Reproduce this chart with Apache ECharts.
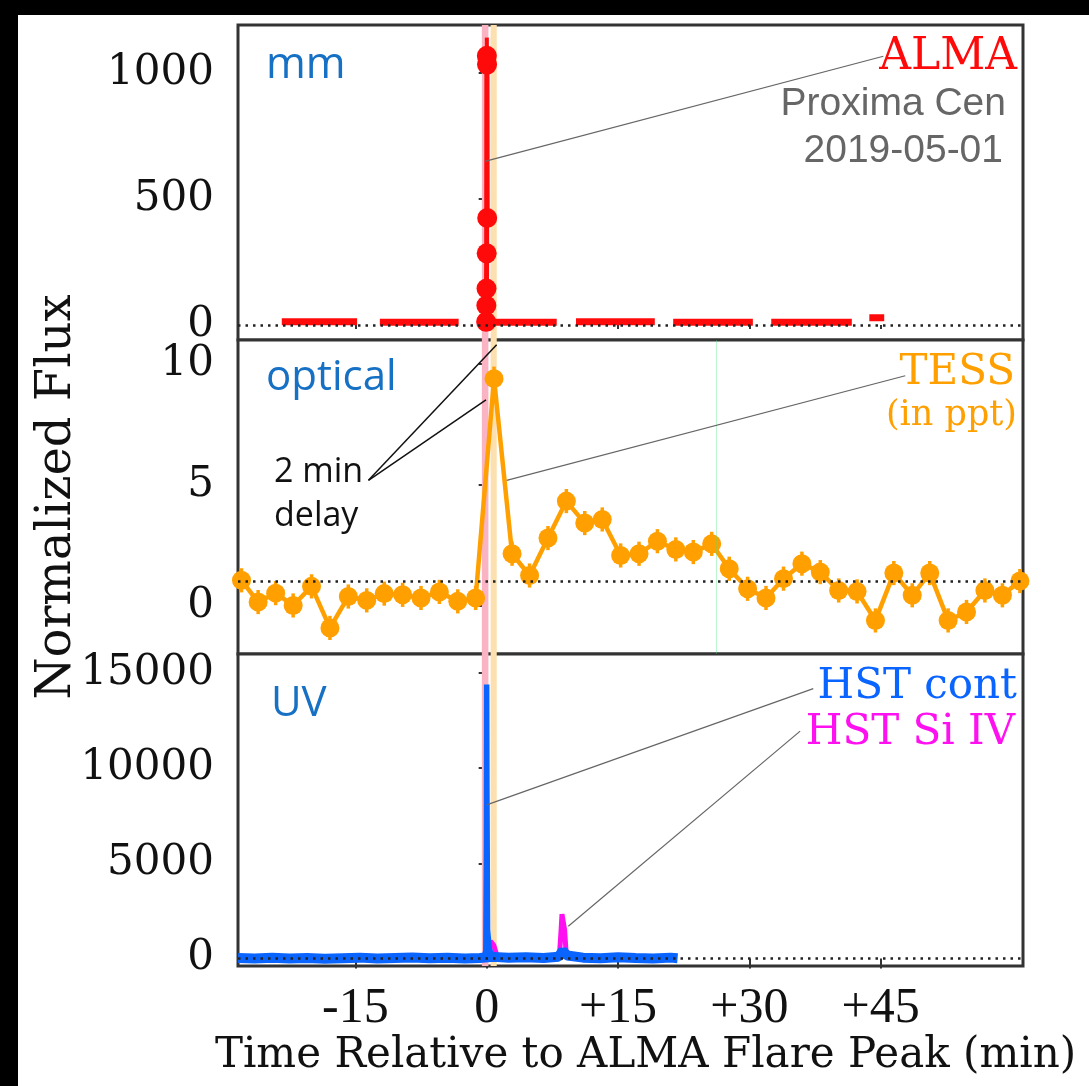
<!DOCTYPE html>
<html><head><meta charset="utf-8">
<script src="https://cdn.jsdelivr.net/npm/echarts@6/dist/echarts.min.js"></script>
<style>html,body{margin:0;padding:0;background:#fff}#c{width:1089px;height:1086px}</style>
</head><body><div id="c"></div>
<script>
// ---------------- data ----------------
const xTicks = [-15, 0, 15, 30, 45];
const yTicksMM = [0, 500, 1000];
const yTicksOpt = [0, 5, 10];
const yTicksUV = [0, 5000, 10000, 15000];

// ALMA quiescent scans (start, end, level)
const almaScanStart = [-23.4, -12.2, -1.0, 10.2, 21.3, 32.5, 43.7];
const almaScanEnd   = [-14.8, -3.2, 8.0, 19.2, 30.4, 41.7, 45.4];
const almaScanLevel = [12, 10, 10, 12, 10, 10, 28];
// ALMA flare samples
const almaFlareT   = [-0.06, -0.04, -0.02, 0.0, 0.02, 0.04, 0.06];
const almaFlareV   = [12, 77, 144, 284, 1068, 1033, 424];
const almaFlareErr = [10, 20, 20, 25, 72, 60, 25];

// TESS (ppt)
const tessT = [-28.0,-26.1,-24.1,-22.1,-20.0,-17.9,-15.8,-13.7,-11.7,-9.6,-7.5,-5.4,-3.3,-1.26,0.84,2.9,4.9,7.0,9.1,11.2,13.2,15.3,17.4,19.5,21.6,23.6,25.7,27.7,29.8,31.9,33.9,36.0,38.1,40.2,42.3,44.4,46.5,48.6,50.6,52.7,54.8,56.9,58.9,60.9];
const tessV = [1.05,0.15,0.52,0.01,0.8,-0.92,0.38,0.22,0.5,0.45,0.32,0.57,0.18,0.32,9.4,2.15,1.25,2.8,4.33,3.42,3.57,2.08,2.15,2.67,2.33,2.22,2.56,1.53,0.7,0.32,1.12,1.74,1.39,0.63,0.59,-0.61,1.35,0.43,1.35,-0.61,-0.26,0.63,0.43,1.02];
const tessErr = [0.5,0.5,0.5,0.5,0.5,0.5,0.5,0.5,0.5,0.5,0.5,0.5,0.5,0.5,0.5,0.5,0.5,0.5,0.5,0.5,0.5,0.5,0.5,0.5,0.5,0.5,0.5,0.5,0.5,0.5,0.5,0.5,0.5,0.5,0.5,0.5,0.5,0.5,0.5,0.5,0.5,0.5,0.5,0.5];

// HST continuum
const hstBaseT = [-28.4,-26.5,-24.5,-22.5,-20.5,-18.5,-16.5,-14.5,-12.5,-10.5,-8.5,-6.5,-4.5,-2.5,-0.8,0.8,2.5,4.5,6.5,8.2,8.7,9.2,11,13,15,17,19,21,21.8];
const hstBaseV = [20,-10,30,0,20,-20,10,40,-10,20,50,10,30,0,20,80,30,60,20,90,400,150,40,10,60,20,-10,40,10];
const hstFlareT = [-0.3,-0.1,-0.03,0.0,0.03,0.1,0.3,0.6];
const hstFlareV = [50,400,6000,14400,9000,1500,500,150];
// HST Si IV
const siT = [-0.3,0.2,0.45,0.8,1.2,8.3,8.5,8.6,8.8,8.9,9.1];
const siV = [0,300,900,700,100,100,1500,2330,2330,1500,100];

// shaded time windows
const pinkBand = [-0.55, 0.2];
const orangeBand = [0.45, 1.15];

// annotation leader lines (data coords)
const leadTop = [[[-0.2, 649], [45.3, 1066]]];
const leadMid = [[[2.28, 5.19], [47.8, 9.52]]];
const leadDelay = [[[-13.5, 5.19], [1.14, 10.8]], [[-13.5, 5.19], [-0.08, 8.52]]];
const leadBot = [[[0.0, 8067], [37.3, 14180]], [[9.32, 1692], [35.8, 11944]]];

// ---------------- chart ----------------
const X_MIN = -28.4, X_MAX = 61.25;
const RED = '#ff0a0a', ORANGE = '#ffa000', BLUE = '#0a64ff', MAG = '#ff10f0';
const TXTBLUE = '#1670c4';
const SERIF = '"DejaVu Serif"';
const NUMF = '"Liberation Serif"';

const grids = [
  {left: 238, top: 25, width: 785, height: 315},
  {left: 238, top: 340, width: 785, height: 314},
  {left: 238, top: 654, width: 785, height: 312}
].map(g => Object.assign(g, {show: true, borderColor: '#333', borderWidth: 3, backgroundColor: '#fff', containLabel: false}));

function xAx(i) {
  const bottom = i === 2;
  return {
    type: 'value', gridIndex: i, min: X_MIN, max: X_MAX,
    position: i === 0 ? 'top' : 'bottom',
    axisLine: {show: false}, splitLine: {show: false},
    axisTick: {show: i !== 1, customValues: xTicks, inside: !bottom, length: bottom ? 10 : 4,
      lineStyle: {color: '#333', width: 2}},
    axisLabel: {show: bottom, customValues: xTicks, margin: 18,
      formatter: v => (v > 0 ? '+' + v : '' + v),
      fontFamily: NUMF, fontSize: 50, color: '#111'},
    name: bottom ? 'Time Relative to ALMA Flare Peak (min)' : '',
    nameLocation: 'middle', nameGap: 64,
    nameTextStyle: {fontFamily: SERIF, fontSize: 42, color: '#111', padding: [0, 0, 0, 30]}
  };
}
function yAx(i, min, max, ticks) {
  return {
    type: 'value', gridIndex: i, min: min, max: max,
    axisLine: {show: false}, splitLine: {show: false},
    axisTick: {show: true, customValues: ticks, length: 8, lineStyle: {color: '#333', width: 2}},
    axisLabel: {customValues: ticks, margin: 24, fontFamily: SERIF, fontSize: 42, color: '#111',
      padding: [7, 0, 0, 0], formatter: v => String(v)},
    name: i === 1 ? 'Normalized Flux' : '',
    nameLocation: 'middle', nameGap: 156,
    nameTextStyle: {fontFamily: SERIF, fontSize: 48, color: '#111'}
  };
}

function helper(i, dottedY, extraLines) {
  const ml = [{yAxis: dottedY, lineStyle: {type: [2.5, 5], width: 2.5, color: '#222'}}];
  (extraLines || []).forEach(l => ml.push(l));
  return {
    type: 'line', xAxisIndex: i, yAxisIndex: i, data: [], z: 1, silent: true,
    markArea: {silent: true, data: [
      [{xAxis: pinkBand[0], itemStyle: {color: '#f9b3c3'}}, {xAxis: pinkBand[1]}],
      [{xAxis: orangeBand[0], itemStyle: {color: '#fde0b0'}}, {xAxis: orangeBand[1]}]
    ]},
    markLine: {silent: true, symbol: ['none', 'none'], label: {show: false}, data: ml}
  };
}
function leaders(i, segs, color, width) {
  return {
    type: 'line', xAxisIndex: i, yAxisIndex: i, data: [], z: 6, silent: true,
    markLine: {silent: true, symbol: ['none', 'none'], label: {show: false},
      lineStyle: {color: color, width: width, type: 'solid'},
      data: segs.map(s => [{coord: s[0]}, {coord: s[1]}])}
  };
}
function errBars(i, ts, vs, es, color, w, z) {
  return {
    type: 'custom', xAxisIndex: i, yAxisIndex: i, z: z, silent: true,
    data: ts.map((t, k) => [t, vs[k] - es[k], vs[k] + es[k]]),
    renderItem: (p, api) => {
      const a = api.coord([api.value(0), api.value(1)]);
      const b = api.coord([api.value(0), api.value(2)]);
      return {type: 'line', shape: {x1: a[0], y1: a[1], x2: b[0], y2: b[1]},
        style: {stroke: color, lineWidth: w}};
    }
  };
}

const series = [];
// panel 1: mm
series.push(helper(0, 0));
almaScanStart.forEach((s, k) => series.push({
  type: 'line', xAxisIndex: 0, yAxisIndex: 0, symbol: 'none', z: 3,
  lineStyle: {color: RED, width: 7},
  data: [[s, almaScanLevel[k]], [almaScanEnd[k], almaScanLevel[k]]]
}));
series.push(errBars(0, almaFlareT, almaFlareV, almaFlareErr, RED, 4, 3));
series.push({
  type: 'line', xAxisIndex: 0, yAxisIndex: 0, z: 4,
  symbol: 'circle', symbolSize: 20, itemStyle: {color: RED},
  lineStyle: {color: RED, width: 5},
  data: almaFlareT.map((t, k) => [t, almaFlareV[k]])
});
series.push(leaders(0, leadTop, '#666', 1.2));

// panel 2: optical
series.push(helper(1, 1, [{xAxis: 26.2, lineStyle: {type: 'solid', width: 1, color: 'rgba(60,230,120,0.35)'}}]));
series.push(errBars(1, tessT, tessV, tessErr, ORANGE, 3.5, 3));
series.push({
  type: 'line', xAxisIndex: 1, yAxisIndex: 1, z: 4,
  symbol: 'circle', symbolSize: 19, itemStyle: {color: ORANGE},
  lineStyle: {color: ORANGE, width: 4.5},
  data: tessT.map((t, k) => [t, tessV[k]])
});
series.push(leaders(1, leadMid, '#666', 1.2));
series.push(leaders(1, leadDelay, '#111', 1.5));

// panel 3: UV
series.push(helper(2, 0));
series.push({
  type: 'line', xAxisIndex: 2, yAxisIndex: 2, z: 3, symbol: 'none',
  lineStyle: {color: MAG, width: 5},
  data: siT.map((t, k) => [t, siV[k]])
});
series.push({
  type: 'line', xAxisIndex: 2, yAxisIndex: 2, z: 4, symbol: 'none',
  lineStyle: {color: BLUE, width: 10},
  data: hstBaseT.map((t, k) => [t, hstBaseV[k]])
});
series.push({
  type: 'line', xAxisIndex: 2, yAxisIndex: 2, z: 4, symbol: 'none',
  lineStyle: {color: BLUE, width: 5.5},
  data: hstFlareT.map((t, k) => [t, hstFlareV[k]])
});
series.push(leaders(2, leadBot, '#666', 1.2));

function txt(text, x, y, font, fill, align) {
  return {type: 'text', x: x, y: y, z: 20, silent: true,
    style: {text: text, font: font, fill: fill, textAlign: align, align: align,
      textVerticalAlign: 'middle', verticalAlign: 'middle'}};
}
const graphic = [
  {type: 'rect', shape: {x: 0, y: 0, width: 1089, height: 15}, style: {fill: '#000'}, z: 30},
  {type: 'rect', shape: {x: 0, y: 0, width: 18, height: 1086}, style: {fill: '#000'}, z: 30},
  txt('mm', 266, 66, '43px "Open Sans"', TXTBLUE, 'left'),
  txt('optical', 266, 378, '42px "Open Sans"', TXTBLUE, 'left'),
  txt('UV', 271, 704, '42px "Open Sans"', TXTBLUE, 'left'),
  txt('ALMA', 1017, 58, '44px ' + SERIF, RED, 'right'),
  txt('Proxima Cen', 1006, 104, '39px "Liberation Sans"', '#666', 'right'),
  txt('2019-05-01', 1003, 151, '39px "Liberation Sans"', '#666', 'right'),
  txt('TESS', 1015, 373, '42px ' + SERIF, ORANGE, 'right'),
  txt('(in ppt)', 1017, 416, '35px ' + SERIF, ORANGE, 'right'),
  txt('HST cont', 1017, 687, '42px ' + SERIF, BLUE, 'right'),
  txt('HST Si IV', 1015, 733, '42px ' + SERIF, MAG, 'right'),
  txt('2 min', 274, 472, '34px "Open Sans"', '#111', 'left'),
  txt('delay', 274, 516, '34px "Open Sans"', '#111', 'left')
];

const chart = echarts.init(document.getElementById('c'), null, {renderer: 'canvas'});
chart.setOption({
  animation: false,
  backgroundColor: '#fff',
  grid: grids,
  xAxis: [xAx(0), xAx(1), xAx(2)],
  yAxis: [yAx(0, -60, 1190, yTicksMM), yAx(1, -2, 11, yTicksOpt), yAx(2, -400, 16000, yTicksUV)],
  series: series,
  graphic: graphic
});
</script></body></html>
